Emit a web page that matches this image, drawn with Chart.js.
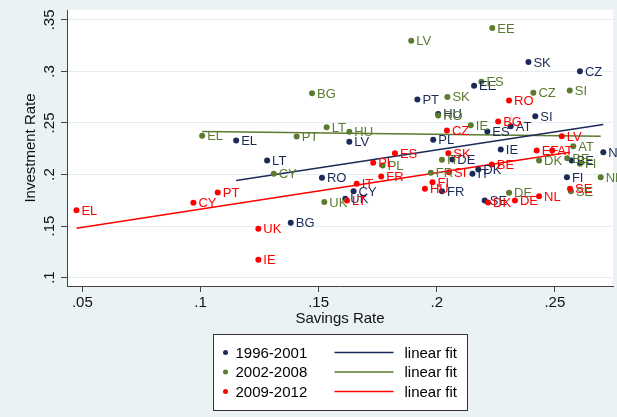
<!DOCTYPE html>
<html>
<head>
<meta charset="utf-8">
<script src="https://cdn.jsdelivr.net/npm/chart.js@4.4.0/dist/chart.umd.min.js"></script>
<style>
  html, body { margin: 0; padding: 0; background: #eaf2f3; }
  #wrap { width: 617px; height: 417px; }
</style>
</head>
<body>
<div id="wrap"><canvas id="chart" width="617" height="417"></canvas></div>
<script>
// 1996-2001
const countries1 = ['EL', 'LT', 'LV', 'PT', 'HU', 'PL', 'EE', 'ES', 'AT', 'SK', 'SI', 'CZ', 'IE', 'NL', 'DE', 'IT', 'DK', 'FR', 'SE', 'FI', 'BE', 'RO', 'CY', 'UK', 'BG']
const savings1 = [0.1151, 0.1282, 0.163, 0.1918, 0.2006, 0.1985, 0.2158, 0.2214, 0.2313, 0.2388, 0.2417, 0.2606, 0.2271, 0.2705, 0.2066, 0.2151, 0.2176, 0.2022, 0.2203, 0.2551, 0.2571, 0.1514, 0.1648, 0.1613, 0.1382]
const invest1 = [0.233, 0.2136, 0.2317, 0.2727, 0.2588, 0.2336, 0.2862, 0.2417, 0.2468, 0.3092, 0.2565, 0.3001, 0.2242, 0.2216, 0.2145, 0.2007, 0.2048, 0.1838, 0.1748, 0.1974, 0.2136, 0.1968, 0.1838, 0.1764, 0.1532]

// 2002-2008
const countries2 = ['EL', 'PT', 'LT', 'HU', 'BG', 'LV', 'SK', 'RO', 'EE', 'ES', 'CZ', 'SI', 'IE', 'AT', 'DK', 'BE', 'FI', 'NL', 'SE', 'DE', 'FR', 'IT', 'PL', 'CY', 'UK']
const savings2 = [0.1007, 0.1407, 0.1534, 0.163, 0.1472, 0.1892, 0.2045, 0.2006, 0.2235, 0.2189, 0.2409, 0.2563, 0.2144, 0.2578, 0.2433, 0.2552, 0.2606, 0.2694, 0.2568, 0.2306, 0.1975, 0.2022, 0.1771, 0.131, 0.1524]
const invest2 = [0.2375, 0.2368, 0.2458, 0.2414, 0.2788, 0.3298, 0.2753, 0.2572, 0.3421, 0.2901, 0.2792, 0.2814, 0.2478, 0.2274, 0.2136, 0.2158, 0.2104, 0.1974, 0.1838, 0.1823, 0.2016, 0.2142, 0.2087, 0.2007, 0.1732]

// 2009-2012
const countries3 = ['EL', 'CY', 'PT', 'UK', 'IE', 'LT', 'IT', 'FR', 'PL', 'ES', 'HU', 'FI', 'SI', 'SK', 'CZ', 'BG', 'RO', 'LV', 'BE', 'EE', 'AT', 'DK', 'DE', 'NL', 'SE']
const savings3 = [0.0475, 0.097, 0.1073, 0.1245, 0.1245, 0.162, 0.1661, 0.1765, 0.1731, 0.1823, 0.195, 0.1982, 0.2052, 0.2049, 0.2043, 0.226, 0.2306, 0.2529, 0.2233, 0.2423, 0.2489, 0.2217, 0.2331, 0.2433, 0.2564]
const invest3 = [0.1654, 0.1726, 0.1826, 0.1474, 0.1173, 0.1748, 0.191, 0.1981, 0.2113, 0.2206, 0.1861, 0.1925, 0.2022, 0.2206, 0.2426, 0.2514, 0.2717, 0.2371, 0.2097, 0.2233, 0.2233, 0.1729, 0.1748, 0.179, 0.1861]

const periods = ['1996-2001', '2002-2008', '2009-2012']
const xTicks = [0.05, 0.1, 0.15, 0.2, 0.25]
const yTicks = [0.1, 0.15, 0.2, 0.25, 0.3, 0.35]

const NAVY = '#1b2a58'
const GREEN = '#5b7b30'
const RED = '#ff0000'
const BG = 'rgb(234,242,243)'
const FONT = '"Liberation Sans", Arial, sans-serif'

// Stata-style tick labels: drop the leading zero
const fmt = (v) => String(+v.toFixed(2)).replace(/^0\./, '.')

const toPoints = (xs, ys) => xs.map((x, i) => ({ x: x, y: ys[i] }))

// OLS line drawn between the smallest and largest x of the group
const linearFit = (xs, ys) => {
  const n = xs.length
  const mx = xs.reduce((a, b) => a + b, 0) / n
  const my = ys.reduce((a, b) => a + b, 0) / n
  let sxy = 0, sxx = 0
  xs.forEach((x, i) => { sxy += (x - mx) * (ys[i] - my); sxx += (x - mx) * (x - mx) })
  const b = sxy / sxx
  const a = my - b * mx
  const lo = Math.min(...xs), hi = Math.max(...xs)
  return [{ x: lo, y: a + b * lo }, { x: hi, y: a + b * hi }]
}

const scatterSet = (label, xs, ys, names, color, order) => ({
  type: 'scatter',
  label: label,
  data: toPoints(xs, ys),
  names: names,
  backgroundColor: color,
  borderColor: color,
  pointRadius: 3,
  pointBorderWidth: 0,
  order: order
})

const fitSet = (xs, ys, color) => ({
  type: 'line',
  label: 'linear fit',
  data: linearFit(xs, ys),
  borderColor: color,
  borderWidth: 1.5,
  pointRadius: 0,
  fill: false,
  order: 5
})

// paint the grey-blue graph region and the white plot region
const background = {
  id: 'background',
  beforeDraw(chart) {
    const { ctx, chartArea: a } = chart
    ctx.save()
    ctx.fillStyle = BG
    ctx.fillRect(0, 0, chart.width, chart.height)
    ctx.fillStyle = '#fff'
    ctx.fillRect(a.left, a.top, a.right - a.left, a.bottom - a.top)
    ctx.restore()
  }
}

// country codes next to each marker
const pointLabels = {
  id: 'pointLabels',
  afterDatasetsDraw(chart) {
    const ctx = chart.ctx
    ctx.save()
    ctx.font = '13px ' + FONT
    ctx.textBaseline = 'middle'
    ctx.textAlign = 'left'
    chart.data.datasets.forEach((ds, i) => {
      if (!ds.names) return
      ctx.fillStyle = ds.borderColor
      chart.getDatasetMeta(i).data.forEach((pt, j) => {
        ctx.fillText(ds.names[j], pt.x + 5, pt.y + 1)
      })
    })
    ctx.restore()
  }
}

// two-column legend box under the axis title
const boxLegend = {
  id: 'boxLegend',
  afterDraw(chart) {
    const { ctx, chartArea: a } = chart
    const w = 254, h = 76
    const left = Math.round((a.left + a.right) / 2 - w / 2) + 0.5
    const top = a.bottom + 48.5
    const colors = [NAVY, GREEN, RED]
    ctx.save()
    ctx.fillStyle = '#fff'
    ctx.fillRect(left, top, w, h)
    ctx.strokeStyle = '#333'
    ctx.lineWidth = 1
    ctx.strokeRect(left, top, w, h)
    ctx.font = '15px ' + FONT
    ctx.textBaseline = 'middle'
    periods.forEach((p, i) => {
      const y = top + 18 + i * 19.5
      ctx.fillStyle = colors[i]
      ctx.beginPath()
      ctx.arc(left + 12, y, 2.5, 0, Math.PI * 2)
      ctx.fill()
      ctx.fillStyle = '#000'
      ctx.fillText(p, left + 22, y + 1)
      ctx.strokeStyle = colors[i]
      ctx.lineWidth = 1.5
      ctx.beginPath()
      ctx.moveTo(left + 121, y)
      ctx.lineTo(left + 180, y)
      ctx.stroke()
      ctx.fillText('linear fit', left + 191, y + 1)
    })
    ctx.restore()
  }
}

new Chart(document.getElementById('chart').getContext('2d'), {
  data: {
    datasets: [
      scatterSet(periods[0], savings1, invest1, countries1, NAVY, 3),
      scatterSet(periods[1], savings2, invest2, countries2, GREEN, 2),
      scatterSet(periods[2], savings3, invest3, countries3, RED, 1),
      fitSet(savings1, invest1, NAVY),
      fitSet(savings2, invest2, GREEN),
      fitSet(savings3, invest3, RED)
    ]
  },
  options: {
    responsive: false,
    animation: false,
    devicePixelRatio: 1,
    layout: { padding: { top: 9, right: 3, left: 0, bottom: 86 } },
    plugins: {
      legend: { display: false },
      tooltip: { enabled: false }
    },
    scales: {
      x: {
        type: 'linear',
        min: 0.0435,
        max: 0.2746,
        afterBuildTicks: (scale) => { scale.ticks = xTicks.map((v) => ({ value: v })) },
        afterFit: (scale) => { scale.height = 45 },
        border: { color: '#444', width: 1 },
        grid: { drawOnChartArea: false, tickLength: 6, tickColor: '#444' },
        ticks: {
          autoSkip: false,
          minRotation: 0,
          maxRotation: 0,
          padding: 2,
          color: '#111',
          font: { family: FONT, size: 15 },
          callback: (v) => fmt(v)
        },
        title: {
          display: true,
          text: 'Savings Rate',
          color: '#111',
          font: { family: FONT, size: 15 },
          padding: { top: 0, bottom: 3 }
        }
      },
      y: {
        type: 'linear',
        min: 0.0918,
        max: 0.3596,
        afterBuildTicks: (scale) => { scale.ticks = yTicks.map((v) => ({ value: v })) },
        afterFit: (scale) => { scale.width = 67 },
        border: { color: '#444', width: 1 },
        grid: { color: 'rgb(228,238,240)', tickLength: 6, tickColor: '#444' },
        ticks: {
          minRotation: 90,
          maxRotation: 90,
          crossAlign: 'center',
          padding: 1,
          color: '#111',
          font: { family: FONT, size: 15 },
          callback: (v) => fmt(v)
        },
        title: {
          display: true,
          text: 'Investment Rate',
          color: '#111',
          font: { family: FONT, size: 15 },
          padding: { top: 22, bottom: 0 }
        }
      }
    }
  },
  plugins: [background, pointLabels, boxLegend]
})
</script>
</body>
</html>
